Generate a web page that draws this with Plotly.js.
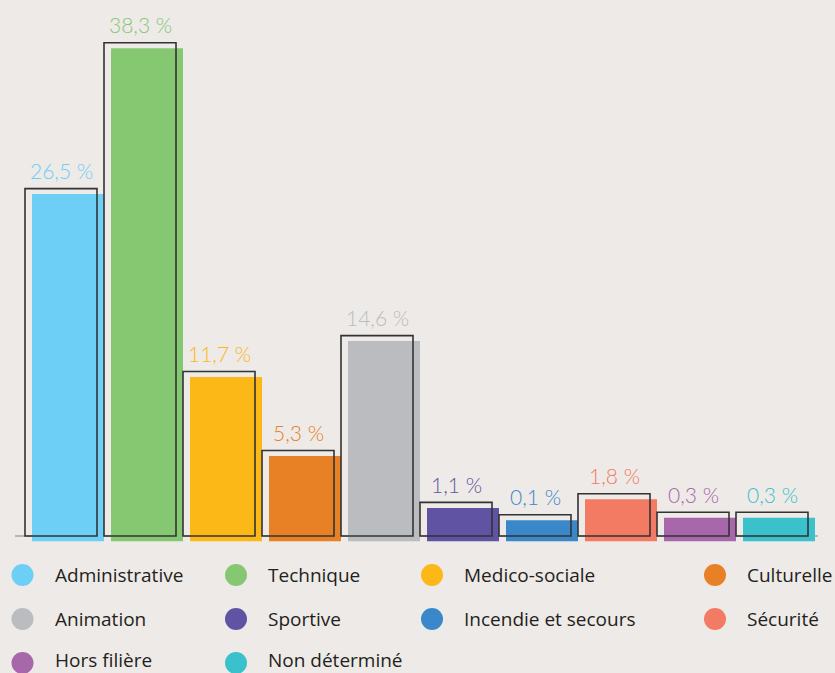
<!DOCTYPE html>
<html>
<head>
<meta charset="utf-8">
<script src="https://cdn.plot.ly/plotly-3.0.1.min.js"></script>
<style>
  html, body { margin: 0; padding: 0; background: #edeae7; }
  #chart { width: 835px; height: 673px; }
</style>
</head>
<body>
<div id="chart"></div>
<script>
// ---- Data ----
const categories = ['Administrative', 'Technique', 'Medico-sociale', 'Culturelle', 'Animation',
                    'Sportive', 'Incendie et secours', 'Sécurité', 'Hors filière', 'Non déterminé'];
const shares = [26.5, 38.3, 11.7, 5.3, 14.6, 1.1, 0.1, 1.8, 0.3, 0.3];
const colors = ['#6dcff6', '#86c872', '#fbb817', '#e88025', '#bbbcbf',
                '#6153a3', '#3a88c9', '#f37a63', '#a867aa', '#3ac1cb'];

// ---- Layout constants (pixels) ----
const W = 835, H = 673;
const STEP = 79, FIRST_CENTER = 68, PLOT_LEFT = 15, PLOT_RIGHT = 818;
const BASE_PX = 541.5, PX_PER_UNIT = 12.355;
const STUB = 1.62;           // visual minimum bar height (data units)
const SHIFT_X = 7, SHIFT_Y = 5.5;  // offset of the outline frames
const LEGEND_COL_X = [22.5, 236, 432, 715];
const LEGEND_TEXT_X = [53, 266, 462, 745];
const LEGEND_ROW_Y = [575, 619, 663];
const LEGEND_TEXT_ROW_Y = [575, 619, 659.5];

const fmt = v => v.toFixed(1).replace('.', ',') + ' %';

const xr = [-(FIRST_CENTER - PLOT_LEFT) / STEP, (PLOT_RIGHT - FIRST_CENTER) / STEP];
const yr = [-STUB, -STUB + BASE_PX / PX_PER_UNIT];
const dx = SHIFT_X / STEP, dy = SHIFT_Y / PX_PER_UNIT;

const hidden = { visible: false, showgrid: false, zeroline: false, fixedrange: true };

const filled = {
  type: 'bar', x: categories, y: shares.map(v => v + STUB), base: -STUB,
  marker: { color: colors, line: { width: 0 } },
  xaxis: 'x', yaxis: 'y', hoverinfo: 'skip', showlegend: false
};
const frames = {
  type: 'bar', x: categories, y: shares.map(v => v + STUB), base: -STUB,
  marker: { color: 'rgba(0,0,0,0)', line: { color: '#333333', width: 1.6 } },
  xaxis: 'x2', yaxis: 'y2', hoverinfo: 'skip', showlegend: false
};
const legendDots = {
  type: 'scatter', mode: 'markers',
  x: categories.map((c, i) => LEGEND_COL_X[i % 4]),
  y: categories.map((c, i) => LEGEND_ROW_Y[Math.floor(i / 4)]),
  marker: { size: 22, color: colors, line: { width: 0 } },
  xaxis: 'x3', yaxis: 'y3', hoverinfo: 'skip', showlegend: false
};

const annotations = [];
categories.forEach((c, i) => {
  annotations.push({
    xref: 'x2', yref: 'y2', x: c, y: shares[i], text: fmt(shares[i]),
    showarrow: false, yanchor: 'middle', yshift: 18,
    font: { family: 'Lato, sans-serif', size: 21, color: colors[i], weight: 300 }
  });
  annotations.push({
    xref: 'x3', yref: 'y3', x: LEGEND_TEXT_X[i % 4], y: LEGEND_TEXT_ROW_Y[Math.floor(i / 4)],
    text: c, showarrow: false, xanchor: 'left', yanchor: 'middle',
    font: { family: '"Open Sans", sans-serif', size: 19, color: '#231f20' }
  });
});

const layout = {
  width: W, height: H,
  margin: { l: 0, r: 0, t: 0, b: 0 },
  paper_bgcolor: '#edeae7', plot_bgcolor: 'rgba(0,0,0,0)',
  barmode: 'overlay', bargap: 1 - 72 / 79,
  xaxis: Object.assign({}, hidden, { domain: [PLOT_LEFT / W, PLOT_RIGHT / W], range: xr, type: 'category', anchor: 'y' }),
  yaxis: Object.assign({}, hidden, { domain: [(H - BASE_PX) / H, 1], range: yr, anchor: 'x' }),
  xaxis2: Object.assign({}, hidden, { overlaying: 'x', range: [xr[0] + dx, xr[1] + dx], type: 'category', anchor: 'y2' }),
  yaxis2: Object.assign({}, hidden, { overlaying: 'y', range: [yr[0] - dy, yr[1] - dy], anchor: 'x2' }),
  xaxis3: Object.assign({}, hidden, { domain: [0, 1], range: [0, W], anchor: 'y3' }),
  yaxis3: Object.assign({}, hidden, { domain: [0, 1], range: [H, 0], anchor: 'x3' }),
  shapes: [{
    type: 'line', layer: 'below', xref: 'paper', yref: 'y2',
    x0: PLOT_LEFT / W, x1: PLOT_RIGHT / W, y0: -STUB, y1: -STUB,
    line: { color: '#808184', width: 1.2 }
  }],
  annotations: annotations,
  showlegend: false
};

Plotly.newPlot('chart', [filled, frames, legendDots], layout, { displayModeBar: false, staticPlot: true });
</script>
</body>
</html>
